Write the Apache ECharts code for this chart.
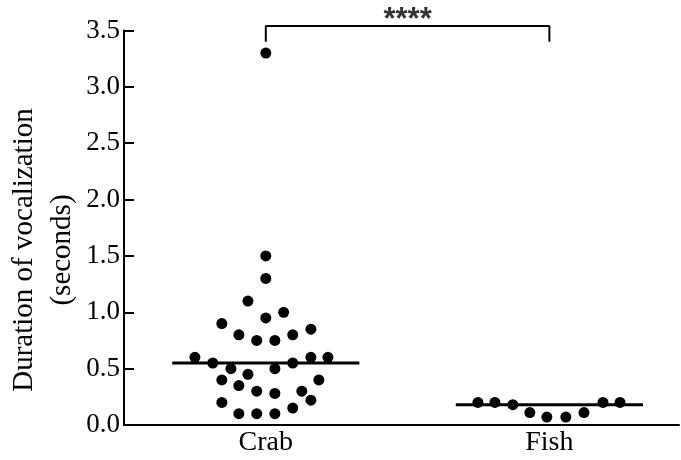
<!DOCTYPE html>
<html>
<head>
<meta charset="utf-8">
<script src="https://cdn.jsdelivr.net/npm/echarts@6/dist/echarts.min.js"></script>
<style>
  html, body { margin: 0; padding: 0; background: #fff; }
  #chart { width: 681px; height: 460px; }
</style>
</head>
<body>
<div id="chart"></div>
<script>
// Groups, placed at x = 0 and x = 1 on a numeric axis
const groups = ['Crab', 'Fish'];

// Crab call durations (s) with their horizontal spread offsets within the swarm
const crabValues  = [3.3, 1.5, 1.3, 1.1, 1.0, 0.95, 0.9, 0.85, 0.8, 0.8, 0.75, 0.75,
                     0.6, 0.6, 0.6, 0.55, 0.55, 0.5, 0.5, 0.45, 0.4, 0.4, 0.35,
                     0.3, 0.28, 0.3, 0.2, 0.22, 0.15, 0.1, 0.1, 0.1];
const crabSpread  = [0, 0, 0, -0.063, 0.063, 0, -0.155, 0.159, -0.095, 0.095, -0.032, 0.032,
                     -0.25, 0.159, 0.219, -0.187, 0.095, -0.123, 0.032, -0.063, -0.155, 0.187, -0.095,
                     -0.032, 0.032, 0.127, -0.155, 0.159, 0.095, -0.095, -0.032, 0.032];

// Fish call durations (s) and spread offsets
const fishValues  = [0.2, 0.2, 0.18, 0.11, 0.07, 0.07, 0.11, 0.2, 0.2];
const fishSpread  = [-0.252, -0.192, -0.129, -0.069, -0.009, 0.058, 0.122, 0.189, 0.249];

// Group medians
const medians = [0.55, 0.18];
const medianHalfWidth = 0.33;

// Significance bracket between the two groups
const bracketTop = 3.54;
const bracketFoot = 3.4;
const significance = '****';

const yTicks = [0, 0.5, 1.0, 1.5, 2.0, 2.5, 3.0, 3.5];

const serif = '"Liberation Serif", "Times New Roman", serif';

const swarm = (vals, spread, gi) => vals.map((v, i) => [gi + spread[i], v]);

const chart = echarts.init(document.getElementById('chart'), null, { renderer: 'canvas' });

const medianSeries = medians.map((m, gi) => ({
  type: 'line',
  data: [[gi - medianHalfWidth, m], [gi + medianHalfWidth, m]],
  symbol: 'none',
  lineStyle: { color: '#000', width: 3 },
  z: 3,
  silent: true
}));

const dotSeries = (vals, spread, gi) => ({
  type: 'scatter',
  data: swarm(vals, spread, gi),
  symbol: 'circle',
  symbolSize: 11,
  itemStyle: { color: '#000', opacity: 1 },
  clip: false,
  z: 4
});

chart.setOption({
  animation: false,
  backgroundColor: '#fff',
  grid: { left: 124, right: 2, top: 30.5, bottom: 35 },
  xAxis: {
    type: 'value',
    min: -0.5,
    max: 1.457,
    interval: 0.5,
    splitLine: { show: false },
    axisTick: { show: false },
    axisLine: { show: true, onZero: false, lineStyle: { color: '#000', width: 2 } },
    axisLabel: {
      showMinLabel: false,
      showMaxLabel: false,
      margin: 4,
      color: '#000',
      fontFamily: serif,
      fontSize: 28,
      formatter: v => {
        const i = Math.round(v);
        return Math.abs(v - i) < 1e-6 && groups[i] ? groups[i] : '';
      }
    }
  },
  yAxis: {
    type: 'value',
    min: yTicks[0],
    max: yTicks[yTicks.length - 1],
    interval: 0.5,
    splitLine: { show: false },
    axisLine: { show: true, onZero: false, lineStyle: { color: '#000', width: 2 } },
    axisTick: { show: true, inside: true, length: 10, lineStyle: { color: '#000', width: 2 } },
    axisLabel: {
      margin: 4,
      color: '#000',
      fontFamily: serif,
      fontSize: 27,
      formatter: v => v.toFixed(1)
    }
  },
  graphic: [{
    type: 'text',
    x: 43,
    y: 250,
    rotation: Math.PI / 2,
    style: {
      text: 'Duration of vocalization\n(seconds)',
      fontFamily: serif,
      fontSize: 29,
      lineHeight: 38,
      fill: '#000',
      align: 'center',
      verticalAlign: 'middle'
    }
  }],
  series: [
    dotSeries(crabValues, crabSpread, 0),
    dotSeries(fishValues, fishSpread, 1),
    ...medianSeries,
    {
      type: 'line',
      data: [[0, bracketFoot], [0, bracketTop], [1, bracketTop], [1, bracketFoot]],
      symbol: 'none',
      clip: false,
      lineStyle: { color: '#000', width: 2 },
      silent: true
    },
    {
      type: 'scatter',
      data: [[0.5, bracketTop]],
      symbolSize: 0,
      clip: false,
      label: {
        show: true,
        position: 'top',
        distance: 0,
        offset: [0, 10],
        formatter: significance,
        color: '#000',
        fontFamily: '"Liberation Sans", Arial, sans-serif',
        fontWeight: 'bold',
        fontSize: 31
      },
      silent: true
    }
  ]
});
</script>
</body>
</html>
